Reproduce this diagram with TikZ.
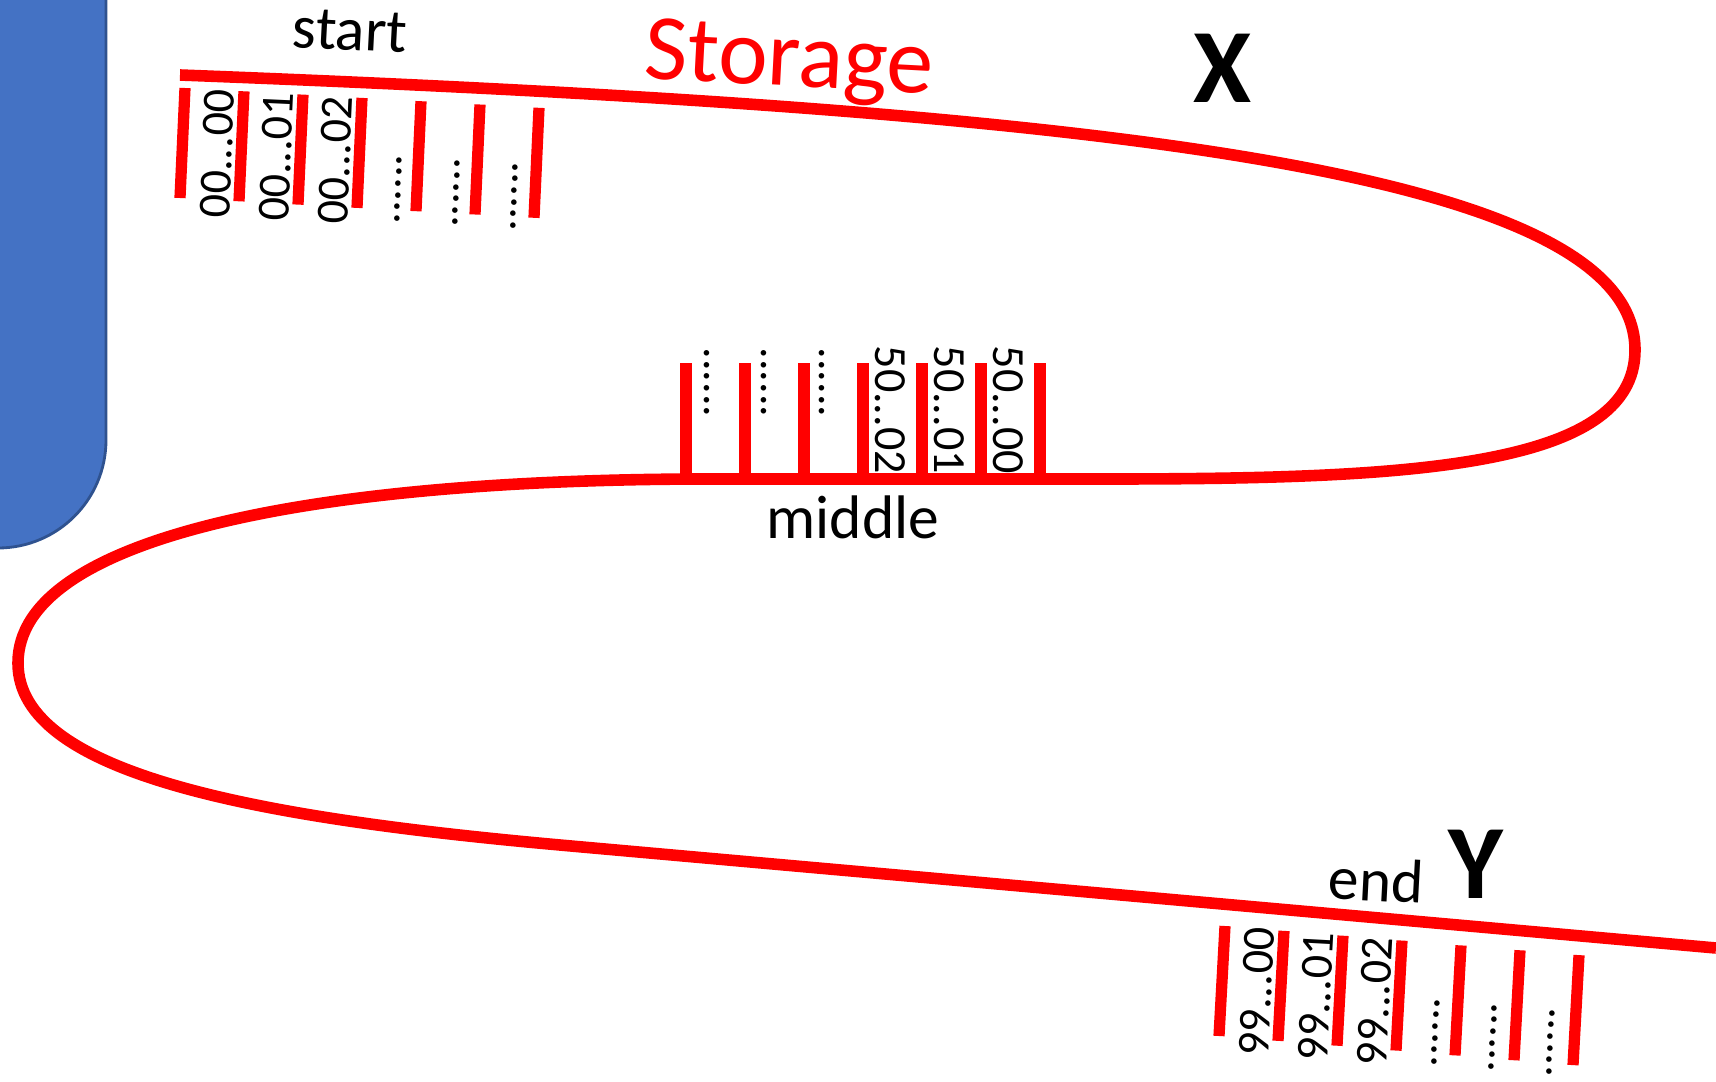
\documentclass[tikz,border=0pt]{standalone}
\usepackage{fontspec}
\setmainfont{Carlito}
\definecolor{storered}{HTML}{FF0000}
\definecolor{boxblue}{HTML}{4472C4}
\definecolor{boxedge}{HTML}{2F528F}

\begin{document}
\begin{tikzpicture}[x=0.1mm,y=-0.1mm,
  track/.style={draw=storered,line width=3.3pt},
  slot/.style={draw=storered,line width=3.2pt},
  idtext/.style={inner sep=0pt,font=\fontsize{13.1}{15}\selectfont},
  tag/.style={inner sep=0pt,font=\fontsize{17.5}{20}\selectfont},
  bigtag/.style={inner sep=0pt,font=\fontsize{30}{34}\selectfont\bfseries}]
\useasboundingbox (0,0) rectangle (1716,1081);
% side panel
\draw[fill=boxblue,draw=boxedge,line width=0.8pt,rounded corners=10.8mm] (-200,-200) rectangle (106,548);
% the storage track
\draw[track] (180,75) .. controls (1100,110) and (1635,170) .. (1635,350)
  .. controls (1635,470) and (1400,479) .. (1100,479) -- (700,479)
  .. controls (300,480) and (18,540) .. (18,663)
  .. controls (18,775) and (260,818) .. (560,845) -- (1716,948);
% start slots
\foreach \i in {0,...,6} {\draw[slot] ({185+59*\i},{88+3.3*\i}) -- ({180+59*\i},{198+3.3*\i});}
\foreach \j in {0,1,2} {\node[idtext,rotate=87.4,anchor=base west] (s\j) at ({229+59*\j},{219+3.3*\j}) {00...0\j};}
\foreach \j in {0,1,2} {\node[idtext,rotate=87.4,anchor=base west] (sd\j) at ({399+58*\j},{225+3.5*\j}) {......};}
% middle slots
\foreach \i in {0,...,6} {\draw[slot] ({686+59*\i},363) -- ({686+59*\i},479);}
\foreach \j in {0,1,2} {\node[idtext,rotate=-90,anchor=base west] (md\j) at ({704+57.5*\j},347) {......};}
\foreach \j/\k in {0/2,1/1,2/0} {\node[idtext,rotate=-90,anchor=base west] (m\j) at ({875+59*\j},345) {50...0\k};}
% end slots
\foreach \i in {0,...,6} {\draw[slot] ({1225+59*\i},{926+4.85*\i}) -- ({1219+59*\i},{1036+4.85*\i});}
\foreach \j in {0,1,2} {\node[idtext,rotate=86.9,anchor=base west] (e\j) at ({1268+59*\j},{1057+4.9*\j}) {99...0\j};}
\foreach \j in {0,1,2} {\node[idtext,rotate=86.9,anchor=base west] (ed\j) at ({1436+57.5*\j},{1068+5*\j}) {......};}
% labels
\node[tag,rotate=-3,anchor=base] (start) at (349,50) {start};
\node[inner sep=0pt,font=\fontsize{26.7}{30}\selectfont,text=storered,rotate=-3,anchor=base] (storage) at (788,86) {Storage};
\node[bigtag] (x) at (1223,68) {X};
\node[tag,anchor=base] (middle) at (853,538) {middle};
\node[tag,rotate=-3,anchor=base] (end) at (1375,901) {end};
\node[bigtag] (y) at (1476,864) {Y};
\end{tikzpicture}
\end{document}
